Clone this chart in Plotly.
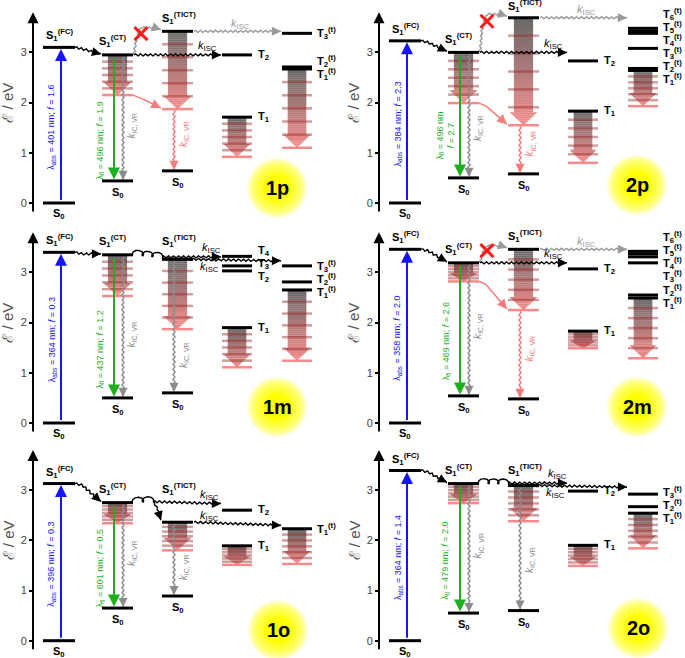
import numpy as np
import plotly.graph_objects as go

PANELS = ["1p", "2p", "1m", "2m", "1o", "2o"]

# singlet levels (eV)
E_S1_FC = [3.10, 3.23, 3.40, 3.46, 3.13, 3.39]
E_S1_CT = [2.95, 3.00, 3.35, 3.19, 2.75, 3.13]
E_S1_CT_VR = [2.15, 1.99, 2.53, 2.82, 2.34, 2.74]
E_S0_CT = [0.44, 0.50, 0.50, 0.54, 0.65, 0.55]
E_S1_TICT = [3.42, 3.69, 3.26, 3.46, 2.36, 3.09]
E_S1_TICT_VR = [1.87, 1.55, 1.87, 2.25, 1.80, 2.38]
E_S0_TICT = [0.64, 0.58, 0.60, 0.48, 0.89, 0.60]

# triplets at the CT geometry (T1, T2, ...) and at the TICT geometry (T1(t), ...)
E_T = [[1.71, 2.95], [1.83, 2.83], [1.90, 3.03, 3.13, 3.32],
       [1.83, 3.07], [1.89, 2.60], [1.90, 2.98]]
E_T1_VR = [0.92, 0.80, 1.11, 1.49, 1.51, 1.49]
E_TT = [[2.67, 2.71, 3.38], [2.64, 2.68, 3.08, 3.38, 3.43, 3.48], [2.65, 2.81, 3.13],
        [2.49, 2.55, 3.19, 3.31, 3.37, 3.42], [2.23], [2.54, 2.67, 2.92]]
E_TT1_VR = [1.10, 1.93, 1.24, 1.29, 1.53, 1.84]

LAMBDA_ABS = [401, 384, 364, 358, 396, 364]
F_ABS = [1.6, 2.3, 0.3, 2.0, 0.3, 1.4]
LAMBDA_FL = [496, 496, 437, 469, 601, 479]
F_FL = [1.9, 2.7, 1.2, 2.6, 0.5, 2.0]
TICT_BLOCKED = [True, True, False, True, False, False]

# ------------------------------------------------------------------
# geometry (page pixels)
# ------------------------------------------------------------------
W, H = 685, 658
S = 50.2  # px per eV
FRAMES = [(0, 0, 340, 220, 203), (346, 0, 339, 220, 203),
          (0, 220, 340, 220, 203), (346, 220, 339, 220, 203),
          (0, 440, 340, 218, 200.7), (346, 440, 339, 218, 200.7)]
AXIS_X = 33
COL_ABS = (43, 75)
COL_CT = (102, 133)
COL_TICT = (162, 193)
COL_T = (222, 252)
COL_TT = (282, 312)
GLOW_XY = [(277, 0.30), (291, 0.36), (277, 0.32), (291, 0.32), (278, 0.21), (292, 0.25)]

FONT = "Liberation Sans, Arial, sans-serif"
BLUE, GREEN, GREY, SALMON = "#1414ff", "#1db01d", "#8c8c8c", "#f47c7c"
LBL = 11

fig = go.Figure()
shapes, annotations = [], []


def ax_ids(i):
    n = "" if i == 0 else str(i + 1)
    return "x" + n, "y" + n


def hline(i, x0, x1, e, color="black", width=3, layer="above"):
    xr, yr = ax_ids(i)
    shapes.append(dict(type="line", xref=xr, yref=yr, x0=x0, x1=x1, y0=e, y1=e,
                       line=dict(color=color, width=width), layer=layer))


def label(i, x, y, txt, size=LBL, color="black", xanchor="center", yanchor="middle", angle=0):
    xr, yr = ax_ids(i)
    annotations.append(dict(xref=xr, yref=yr, x=x, y=y, text=txt, showarrow=False,
                            font=dict(size=size, color=color, family=FONT),
                            xanchor=xanchor, yanchor=yanchor, textangle=angle))


def arrow(i, x0, y0, x1, y1, color, width=1.5, size=1.3, head=2):
    xr, yr = ax_ids(i)
    annotations.append(dict(xref=xr, yref=yr, axref=xr, ayref=yr, x=x1, y=y1, ax=x0, ay=y0,
                            text="", showarrow=True, arrowhead=head, arrowsize=size,
                            arrowwidth=width, arrowcolor=color, standoff=0))


def wavy(i, pts, color, width=1.4, amp=1.1, wl=5.0, head=True):
    xr, yr = ax_ids(i)
    P = np.array([[x, e * S] for x, e in pts], float)
    d = np.diff(P, axis=0)
    seg = np.hypot(d[:, 0], d[:, 1])
    cum = np.concatenate([[0], np.cumsum(seg)])
    L = cum[-1]
    s = np.linspace(0, L, max(int(L / 0.4), 12))
    px = np.interp(s, cum, P[:, 0])
    py = np.interp(s, cum, P[:, 1])
    k = np.clip(np.searchsorted(cum, s, side="right") - 1, 0, len(seg) - 1)
    ux, uy = d[k, 0] / seg[k], d[k, 1] / seg[k]
    env = np.clip((L - s) / 4.0, 0, 1)
    off = amp * np.sin(2 * np.pi * s / wl) * env
    fig.add_trace(go.Scatter(x=px - uy * off, y=(py + ux * off) / S, mode="lines",
                             line=dict(color=color, width=width), hoverinfo="skip",
                             xaxis=xr, yaxis=yr))
    if head:
        sb = L - 5
        arrow(i, np.interp(sb, cum, P[:, 0]), np.interp(sb, cum, P[:, 1]) / S,
              P[-1, 0], P[-1, 1] / S, color, width)


def loopy(i, p0, p1, color="black", n=3, width=1.4):
    xr, yr = ax_ids(i)
    P0 = np.array([p0[0], p0[1] * S])
    P1 = np.array([p1[0], p1[1] * S])
    D = P1 - P0
    L = np.hypot(*D)
    u = D / L
    nrm = np.array([-u[1], u[0]])
    th = np.linspace(0, 2 * np.pi * n, 400)
    a = L / (2 * np.pi * n)
    b = 1.8 * a
    along = a * th - b * np.sin(th)
    up = 0.9 * b * (1 - np.cos(th))
    pts = P0 + np.outer(along, u) + np.outer(up, nrm)
    fig.add_trace(go.Scatter(x=pts[:, 0], y=pts[:, 1] / S, mode="lines",
                             line=dict(color=color, width=width), hoverinfo="skip",
                             xaxis=xr, yaxis=yr))


def mix(c0, c1, t):
    return tuple(c0[j] + (c1[j] - c0[j]) * t for j in range(3))


def grad_arrow(i, col, etop, ebot, n_vib=5):
    xr, yr = ax_ids(i)
    x0, x1 = col
    cx, w = (x0 + x1) / 2, x1 - x0
    bw, hw = 0.31 * w, 0.45 * w
    hpx = (etop - ebot) * S
    head = min(13.0, 0.45 * hpx)
    eh = ebot + head / S
    top_c, bot_c = (105, 105, 105), (246, 140, 140)

    def fill(e):
        r, g, b = mix(top_c, bot_c, (etop - e) / (etop - ebot))
        return f"rgb({r:.0f},{g:.0f},{b:.0f})"

    nb = max(3, int((etop - eh) * S / 2.0))
    step = (etop - eh) / nb
    for k in range(nb):
        ya = etop - k * step
        yb = ya - step - 0.004
        shapes.append(dict(type="rect", xref=xr, yref=yr, x0=cx - bw, x1=cx + bw, y0=yb, y1=ya,
                           fillcolor=fill(ya - step / 2), line=dict(width=0), layer="below"))
    nh = max(3, int(head / 2.0))
    hs = (eh - ebot) / nh
    for k in range(nh):
        ya = eh - k * hs + (0.003 if k else 0)
        yb = eh - (k + 1) * hs
        wa = hw * (ya - ebot) / (eh - ebot)
        wb = hw * (yb - ebot) / (eh - ebot)
        path = f"M {cx - wa},{ya} L {cx + wa},{ya} L {cx + wb},{yb} L {cx - wb},{yb} Z"
        shapes.append(dict(type="path", xref=xr, yref=yr, path=path,
                           fillcolor=fill((ya + yb) / 2), line=dict(width=0), layer="below"))
    for k in range(1, n_vib + 1):
        e = etop - k * (etop - ebot) / (n_vib + 1)
        hline(i, x0, x1, e, "rgba(150,40,40,0.45)", 2.5, "below")
    hline(i, x0, x1, ebot, "rgba(245,110,110,0.8)", 2.5, "below")


def spread(vals, gap):
    order = np.argsort(vals)
    pos = [vals[j] for j in order]
    for _ in range(300):
        moved = False
        for k in range(len(pos) - 1):
            dd = pos[k + 1] - pos[k]
            if dd < gap - 1e-6:
                sh = (gap - dd) / 2
                pos[k] -= sh
                pos[k + 1] += sh
                moved = True
        if not moved:
            break
    out = [0.0] * len(vals)
    for k, j in enumerate(order):
        out[j] = pos[k]
    return out


def triplet_column(i, col, levels, e_vr, tag, lx):
    grad_arrow(i, col, min(levels), e_vr)
    for e in levels:
        hline(i, col[0], col[1], e)
    for n, y in enumerate(spread(levels, 0.26), start=1):
        txt = f"<b>T<sub>{n}</sub></b>" if not tag else f"<b>T<sub>{n}</sub><sup>(t)</sup></b>"
        label(i, lx, y, txt, xanchor="left")


KISC = "<i>k</i><sub>ISC</sub>"
KIC = "<i>k</i><sub>IC, VR</sub>"

for i, name in enumerate(PANELS):
    xr, yr = ax_ids(i)
    fc, ct, ctv, s0c = E_S1_FC[i], E_S1_CT[i], E_S1_CT_VR[i], E_S0_CT[i]
    ti, tiv, s0t = E_S1_TICT[i], E_S1_TICT_VR[i], E_S0_TICT[i]
    blocked = TICT_BLOCKED[i]

    # energy axis
    arrow(i, AXIS_X, -0.2, AXIS_X, 3.8, "black", width=2, size=1.1)
    label(i, 8, 2.0, "ℰ / eV", 15, "#555", angle=-90)

    # glow + compound name
    gx, gy = GLOW_XY[i]
    sizes = list(range(60, 28, -3))
    fig.add_trace(go.Scatter(x=[gx] * len(sizes), y=[gy] * len(sizes), mode="markers",
                             marker=dict(size=sizes, color="rgba(255,255,0,0.22)", line=dict(width=0)),
                             hoverinfo="skip", xaxis=xr, yaxis=yr))
    fig.add_trace(go.Scatter(x=[gx], y=[gy], mode="markers",
                             marker=dict(size=28, color="rgb(255,255,0)", line=dict(width=0)),
                             hoverinfo="skip", xaxis=xr, yaxis=yr))
    label(i, gx, gy, f"<b>{name}</b>", 20)

    # absorption
    hline(i, COL_ABS[0], COL_ABS[1], 0)
    hline(i, COL_ABS[0], COL_ABS[1], fc)
    label(i, 59, -0.04, "<b>S<sub>0</sub></b>", yanchor="top")
    label(i, 44, fc + 0.04, "<b>S<sub>1</sub><sup>(FC)</sup></b>", xanchor="left", yanchor="bottom")
    arrow(i, 61, 0.03, 61, fc - 0.03, BLUE, width=2, size=1.2)
    label(i, 52, fc / 2 - 0.05,
          f"λ<sub>abs</sub> = {LAMBDA_ABS[i]} nm; <i>f</i> = {F_ABS[i]:.1f}", 9, BLUE, angle=-90)
    wavy(i, [(75, fc), (82, fc - 0.03), (101, ct + 0.02)], "black")

    # CT geometry
    grad_arrow(i, COL_CT, ct, ctv)
    hline(i, COL_CT[0], COL_CT[1], ct)
    hline(i, COL_CT[0], COL_CT[1], s0c)
    label(i, 97, ct + 0.07, "<b>S<sub>1</sub><sup>(CT)</sup></b>", xanchor="left", yanchor="bottom")
    label(i, 118, s0c - 0.06, "<b>S<sub>0</sub></b>", yanchor="top")
    arrow(i, 114, ct - 0.03, 114, s0c + 0.03, GREEN, width=2, size=1.2)
    fl = f"λ<sub>fl</sub> = {LAMBDA_FL[i]} nm"
    fs = f"<i>f</i> = {F_FL[i]:.1f}"
    if (ctv - s0c) < 1.6:
        label(i, 100, (ctv + s0c) / 2 + 0.1, fl + "<br>" + fs, 9, GREEN, angle=-90)
    else:
        label(i, 100, (ctv + s0c) / 2 - 0.05, fl + "; " + fs, 9, GREEN, angle=-90)
    wavy(i, [(123, ct - 0.02), (123, s0c + 0.02)], GREY)
    label(i, 132, (ctv + s0c) / 2 + 0.25, KIC, 10, GREY, angle=-90)

    # TICT geometry
    grad_arrow(i, COL_TICT, ti, tiv)
    hline(i, COL_TICT[0], COL_TICT[1], ti)
    hline(i, COL_TICT[0], COL_TICT[1], s0t)
    top = ti if blocked else max(ti, ct)
    label(i, 160, min(top + 0.07, 3.72), "<b>S<sub>1</sub><sup>(TICT)</sup></b>",
          xanchor="left", yanchor="bottom")
    label(i, 178, s0t - 0.06, "<b>S<sub>0</sub></b>", yanchor="top")
    dcol = SALMON if blocked else GREY
    wavy(i, [(174, (tiv if blocked else ti) - 0.02), (174, s0t + 0.02)], dcol)
    label(i, 184, (tiv + s0t) / 2 + 0.12, KIC, 10, dcol, angle=-90)

    # CT -> TICT and intersystem crossing
    if blocked:
        dE = ti - ct
        wavy(i, [(134, ct), (136, ct + 0.65 * dE), (141, ti + 0.07), (155, ti + 0.07),
                 (161, ti + 0.03)], "#9a9a9a", amp=1.0)
        fig.add_trace(go.Scatter(x=[141], y=[ct + 0.9 * dE], mode="markers",
                                 marker=dict(symbol="x-thin", size=13,
                                             line=dict(color="#ff1a1a", width=3)),
                                 hoverinfo="skip", xaxis=xr, yaxis=yr))
        wavy(i, [(133, ctv), (139, ctv - 0.04), (161, tiv + 0.02)], SALMON, width=1.5, amp=0)
        wavy(i, [(134, ct), (221, ct)], "black")
        label(i, 207, ct + 0.17, KISC)
        wavy(i, [(194, ti), (281, ti)], "#9a9a9a")
        label(i, 240, ti + 0.15, KISC, LBL, "#9a9a9a")
    else:
        drop = ti < ct - 0.2
        if drop:
            loopy(i, (133, ct), (153, ct + 0.02), n=2)
            wavy(i, [(153, ct + 0.02), (157, ct - 0.1), (161, ti + 0.04)], "black", amp=0.6)
            wavy(i, [(153, ct + 0.02), (221, ct - 0.02)], "black")
            label(i, 209, ct + 0.16, KISC)
            wavy(i, [(194, ti), (281, ti - 0.06)], "black")
            label(i, 209, ti + 0.13, KISC)
        else:
            loopy(i, (133, ct), (162, ti + 0.03))
            wavy(i, [(162, ti + 0.05), (221, ti + 0.05)], "black")
            label(i, 211, ti + 0.23, KISC)
            wavy(i, [(162, ti + 0.01), (281, ti - 0.03)], "black")
            label(i, 209, ti - 0.15, KISC)

    # triplet manifolds
    triplet_column(i, COL_T, E_T[i], E_T1_VR[i], False, 256)
    triplet_column(i, COL_TT, E_TT[i], E_TT1_VR[i], True, 315)

layout = dict(width=W, height=H, margin=dict(l=0, r=0, t=0, b=0), autosize=False,
              paper_bgcolor="white", plot_bgcolor="rgba(0,0,0,0)", showlegend=False,
              font=dict(family=FONT), shapes=shapes, annotations=annotations)
for i, (left, top, w, h, zero) in enumerate(FRAMES):
    n = "" if i == 0 else str(i + 1)
    layout["xaxis" + n] = dict(domain=[left / W, (left + w) / W], range=[0, w],
                               visible=False, anchor="y" + n, fixedrange=True)
    layout["yaxis" + n] = dict(domain=[(H - top - h) / H, (H - top) / H],
                               range=[(zero - h) / S, zero / S], anchor="free",
                               position=(left + AXIS_X) / W, tickvals=[0, 1, 2, 3],
                               ticks="outside", ticklen=4, tickwidth=1.5, tickcolor="black",
                               showgrid=False, zeroline=False, showline=False, fixedrange=True,
                               tickfont=dict(size=11, color="#444", family=FONT))
fig.update_layout(**layout)

# the page body has a default 8 px margin; drop it so the figure fills the window
fig.write_html("out.html", config={"displayModeBar": False},
               post_script="document.body.style.margin='0';")
